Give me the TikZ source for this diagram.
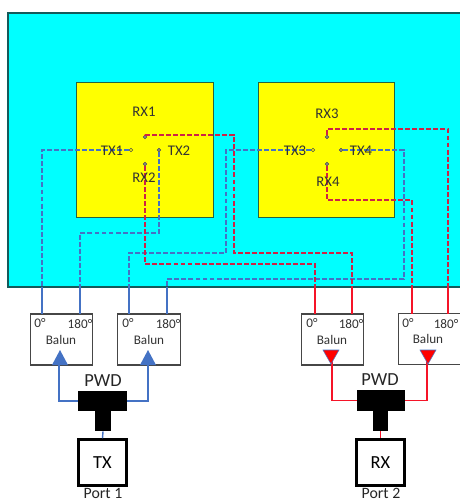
\documentclass[tikz,border=0pt]{standalone}
\usepackage{fontspec}
\setmainfont{Carlito}
\usetikzlibrary{calc,positioning}
\definecolor{panelcyan}{RGB}{0,255,255}
\definecolor{paneledge}{RGB}{20,90,90}
\definecolor{patchyellow}{RGB}{255,255,0}
\definecolor{patchedge}{RGB}{40,100,60}
\definecolor{feedblue}{RGB}{68,114,196}
\definecolor{feedred}{RGB}{245,20,40}
\definecolor{headred}{RGB}{255,0,0}
\definecolor{dashred}{RGB}{205,35,70}
\definecolor{boxgrey}{RGB}{70,70,70}
\tikzset{
  patch/.style={rectangle, draw=patchedge, fill=patchyellow, line width=0.6pt,
                minimum width=77.6pt, minimum height=77.1pt, inner sep=0pt},
  portdot/.style={circle, draw=black!70, fill=black!45, line width=0.3pt,
                  minimum size=2pt, inner sep=0pt},
  portopen/.style={portdot, fill=patchyellow},
  plabel/.style={font=\fontsize{8.4}{9}\selectfont, text=black!80, inner sep=0pt},
  balun/.style={rectangle, draw=boxgrey, fill=white, line width=0.7pt,
                minimum width=35.6pt, minimum height=29pt, inner sep=0pt},
  blabel/.style={font=\fontsize{7.5}{8}\selectfont, text=black!80, inner sep=0pt},
  hblue/.style={line width=0.75pt, feedblue, dash pattern=on 2.8pt off 1.2pt},
  hred/.style={line width=0.85pt, dashred, dash pattern=on 2.8pt off 1.2pt},
  sblue/.style={line width=0.8pt, feedblue},
  sred/.style={line width=0.8pt, feedred},
  bluehead/.style={fill=feedblue},
  redhead/.style={fill=headred, draw=feedblue, line width=0.3pt},
  pwdblock/.style={rectangle, fill=black, inner sep=0pt},
  portbox/.style={rectangle, draw=black, fill=white, line width=1.6pt,
                  minimum width=27pt, minimum height=26pt, inner sep=0pt,
                  font=\fontsize{10.5}{11}\selectfont},
  biglabel/.style={font=\fontsize{10.5}{11}\selectfont, text=black!85, inner sep=0pt},
  portlabel/.style={font=\fontsize{9}{9}\selectfont, text=black!85, inner sep=0pt, anchor=base},
}
\begin{document}
\begin{tikzpicture}[x=0.02cm, y=-0.02cm]
\useasboundingbox (0,0) rectangle (460,501);
\begin{scope}
\clip (0,0) rectangle (460,501);
% substrate and patches
\path[fill=panelcyan, draw=paneledge, line width=0.7pt] (8,13) rectangle (470,287);
\node[patch] (patchA) at (145,150) {};
\node[patch] (patchB) at (326.5,150) {};
% ports
\node[portdot]  (rx1) at (145,137) {};
\node[portopen] (tx1) at (131,150) {};
\node[portdot]  (tx2) at (159,150) {};
\node[portdot]  (rx2) at (145,164) {};
\node[portdot]  (rx3) at (327,137) {};
\node[portopen] (tx3) at (313,150) {};
\node[portdot]  (tx4) at (341,150) {};
\node[portdot]  (rx4) at (327,164) {};
% baluns
\node[balun] (balA) at (61.5,339.5) {};
\node[balun] (balB) at (149,339.5) {};
\node[balun] (balC) at (332.5,339.5) {};
\node[balun] (balD) at (429.5,339) {};
% where the feeds leave the substrate
\coordinate (exA1) at (42,287);
\coordinate (exA2) at (80,287);
\coordinate (exB1) at (129,287);
\coordinate (exB2) at (167,287);
\coordinate (exC1) at (315,287);
\coordinate (exC2) at (352,287);
\coordinate (exD1) at (412,287);
\coordinate (exD2) at (448,287);
% feed ends on the baluns
\coordinate (inA1) at (42,314);
\coordinate (inA2) at (80,314);
\coordinate (inB1) at (129,314);
\coordinate (inB2) at (167,314);
\coordinate (inC1) at (315,314);
\coordinate (inC2) at (352,314);
\coordinate (inD1) at (412,314);
\coordinate (inD2) at (448,314);
% blue lines
\draw[hblue] (tx1) -| (exA1);
\draw[hblue] (tx2) |- (80,233) -- (exA2);
\draw[hblue] (tx3) -| (226,253) -| (exB1);
\draw[hblue] (tx4) -| (404,279) -| (exB2);
% red lines
\draw[hred] (rx1) -- (145,135) -| (234,253) -| (exC2);
\draw[hred] (rx2) |- (315,264) -- (exC1);
\draw[hred] (rx3) |- (448,129) -- (exD2);
\draw[hred] (rx4) |- (412,200) -- (exD1);
% solid lines below
\draw[sblue] (exA1) -- (inA1);
\draw[sblue] (exA2) -- (inA2);
\draw[sblue] (exB1) -- (inB1);
\draw[sblue] (exB2) -- (inB2);
\draw[sred] (exC1) -- (inC1);
\draw[sred] (exC2) -- (inC2);
\draw[sred] (exD1) -- (inD1);
\draw[sred] (exD2) -- (inD2);
% labels
\node[plabel] (lrx1) at (144,112) {RX1};
\node[plabel] (ltx1) at (112,151) {TX1};
\node[plabel] (ltx2) at (179,151) {TX2};
\node[plabel] (lrx2) at (144,178) {RX2};
\node[plabel] (lrx3) at (327,114) {RX3};
\node[plabel] (ltx3) at (295,151) {TX3};
\node[plabel] (ltx4) at (361,151) {TX4};
\node[plabel] (lrx4) at (328,182) {RX4};
\node[blabel] (balAa) at (40,323) {0°};
\node[blabel] (balAb) at (80,324) {180°};
\node[blabel] (balAc) at (61,340) {Balun};
\node[blabel] (balBa) at (128,323) {0°};
\node[blabel] (balBb) at (168,324) {180°};
\node[blabel] (balBc) at (149,340) {Balun};
\node[blabel] (balCa) at (312,323) {0°};
\node[blabel] (balCb) at (351,324) {180°};
\node[blabel] (balCc) at (332,340) {Balun};
\node[blabel] (balDa) at (408,323) {0°};
\node[blabel] (balDb) at (446,324) {180°};
\node[blabel] (balDc) at (428,339) {Balun};
% dividers
\node[pwdblock, minimum width=27.8pt, minimum height=11.5pt] (pwdAbar) at (102.5,401) {};
\node[pwdblock, minimum width=9.1pt, minimum height=11.5pt] (pwdAstem) at (103,421) {};
\node[pwdblock, minimum width=27.4pt, minimum height=11.9pt] (pwdBbar) at (381,400.5) {};
\node[pwdblock, minimum width=8.5pt, minimum height=11.5pt] (pwdBstem) at (380.5,421) {};
\node[biglabel] (pwdAl) at (103,381) {PWD};
\node[biglabel] (pwdBl) at (380,380) {PWD};
\node[portbox] (txbox) at (102.5,462.5) {TX};
\node[portbox] (rxbox) at (380.5,462.5) {RX};
\node[portlabel] (port1) at (103,498) {Port 1};
\node[portlabel] (port2) at (381,498) {Port 2};
% divider feeds
\coordinate (tipA) at (59,360);
\coordinate (tipB) at (148,360);
\coordinate (tipC) at (332,360);
\coordinate (tipD) at (427,360);
\draw[sblue] (pwdAbar.west) -| (tipA);
\draw[sblue] (pwdAbar.east) -| (tipB);
\draw[sred] (pwdBbar.west) -| (tipC);
\draw[sred] (pwdBbar.east) -| (tipD);
\draw[sblue] (pwdAstem.south) -- (txbox.north);
\draw[sred] (pwdBstem.south) -- (rxbox.north);
\path[bluehead] (52,365) -- (60,350) -- (68,365) -- cycle;
\path[bluehead] (140,365) -- (148,350) -- (156,365) -- cycle;
\draw[redhead] (323,350) -- (339,350) -- (331,364) -- cycle;
\draw[redhead] (420,350) -- (436,350) -- (428,364) -- cycle;
\end{scope}
\end{tikzpicture}
\end{document}
